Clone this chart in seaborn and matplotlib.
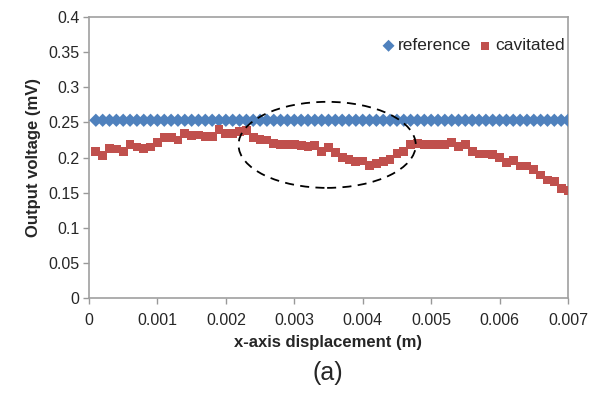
import numpy as np
import pandas as pd
import matplotlib
matplotlib.use("Agg")
import matplotlib.pyplot as plt
from matplotlib.patches import Ellipse
from matplotlib.ticker import FuncFormatter
import seaborn as sns

# ---- data ----
x_disp = [round(0.0001 * i, 4) for i in range(1, 71)]
reference = [0.253] * 70
cavitated = [
    0.208, 0.203, 0.213, 0.212, 0.208, 0.218, 0.215, 0.213, 0.215, 0.221,
    0.228, 0.228, 0.225, 0.234, 0.231, 0.232, 0.230, 0.230, 0.240, 0.234,
    0.234, 0.237, 0.238, 0.228, 0.226, 0.225, 0.220, 0.219, 0.218, 0.218,
    0.217, 0.216, 0.217, 0.209, 0.214, 0.207, 0.200, 0.197, 0.194, 0.195,
    0.189, 0.191, 0.194, 0.197, 0.206, 0.209, 0.218, 0.220, 0.219, 0.219,
    0.219, 0.219, 0.221, 0.216, 0.219, 0.208, 0.205, 0.205, 0.204, 0.200,
    0.193, 0.196, 0.188, 0.188, 0.183, 0.175, 0.168, 0.166, 0.156, 0.153,
]
x_ticks = [0, 0.001, 0.002, 0.003, 0.004, 0.005, 0.006, 0.007]
y_ticks = [0, 0.05, 0.1, 0.15, 0.2, 0.25, 0.3, 0.35, 0.4]

df = pd.DataFrame({"x": x_disp * 2,
                   "v": reference + cavitated,
                   "series": ["reference"] * 70 + ["cavitated"] * 70})

sns.set_style("white")
plt.rcParams["font.family"] = ["Liberation Sans", "DejaVu Sans"]

fig = plt.figure(figsize=(6.02, 3.94), dpi=100)
ax = fig.add_axes([89 / 602, 1 - 298 / 394, 479 / 602, 281 / 394])

blue = "#4F81BD"
red = "#C0504D"
sns.scatterplot(data=df[df.series == "reference"], x="x", y="v", marker="D",
                color=blue, s=46, edgecolor="none", ax=ax, label="reference",
                zorder=3)
sns.scatterplot(data=df[df.series == "cavitated"], x="x", y="v", marker="s",
                color=red, s=40, edgecolor="none", ax=ax, label="cavitated",
                zorder=3)

ell = Ellipse((0.00348, 0.218), width=0.00259, height=0.1225, fill=False,
              edgecolor="black", linestyle=(0, (5, 3.5)), linewidth=1.3,
              zorder=4)
ax.add_patch(ell)

ax.set_xlim(0, 0.007)
ax.set_ylim(0, 0.4)
ax.set_xticks(x_ticks)
ax.set_yticks(y_ticks)

def fmt(v, pos):
    return ("%.4f" % v).rstrip("0").rstrip(".")

ax.xaxis.set_major_formatter(FuncFormatter(fmt))
ax.yaxis.set_major_formatter(FuncFormatter(fmt))
ax.tick_params(axis="both", which="major", length=4, width=1, color="#999999",
               labelsize=11.5, direction="out", left=True, bottom=True)
ax.tick_params(axis="x", pad=7)
ax.tick_params(axis="y", pad=3)
for sp in ax.spines.values():
    sp.set_color("#A0A0A0")
    sp.set_linewidth(1.2)

ax.set_xlabel("x-axis displacement (m)", fontsize=12, fontweight="bold",
              labelpad=5)
ax.set_ylabel("Output voltage (mV)", fontsize=12, fontweight="bold",
              labelpad=5)

leg = ax.legend(loc="upper right", bbox_to_anchor=(1.0, 0.937), ncol=2,
                frameon=False, fontsize=12.5, handlelength=0.6,
                handletextpad=0.25, columnspacing=0.5, markerscale=0.9,
                borderaxespad=0.0, borderpad=0.2)

fig.text(328 / 602, 1 - 373 / 394, "(a)", ha="center", va="center",
         fontsize=18)

fig.savefig("out.png", dpi=100)
